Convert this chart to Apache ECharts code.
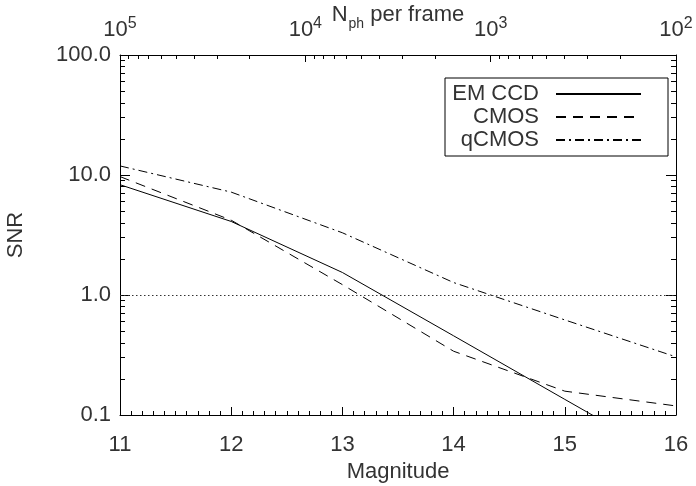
<!DOCTYPE html>
<html>
<head>
<meta charset="UTF-8">
<title>SNR vs Magnitude</title>
<script src="https://cdn.jsdelivr.net/npm/echarts@6.0.0/dist/echarts.min.js"></script>
<style>
  html, body { margin: 0; padding: 0; background: #fff; }
  #chart { width: 696px; height: 486px; }
</style>
</head>
<body>
<div id="chart"></div>
<script>
// data
var magnitudes = [11, 12, 13, 14, 15, 16];
var emccd = [8.3, 4.1, 1.54, 0.457, 0.135, 0.04];
var cmos = [9.7, 4.2, 1.22, 0.34, 0.158, 0.119];
var qcmos = [11.9, 7.2, 3.3, 1.27, 0.62, 0.305];
var seriesNames = ['EM CCD', 'CMOS', 'qCMOS'];
var snrTicks = [0.1, 1, 10, 100];
var nphTicks = [1e2, 1e3, 1e4, 1e5];

var FONT = 'Liberation Sans';
var TXT = '#333';

function pairs(ys) {
    return magnitudes.map(function (m, i) { return [m, ys[i]]; });
}

// minor ticks of a log axis, as log10 values
function logMinors(lo, hi) {
    var out = [];
    for (var e = lo; e < hi; e++) {
        for (var k = 2; k <= 9; k++) out.push(e + Math.log10(k));
    }
    return out;
}

var chart = echarts.init(document.getElementById('chart'));

var minorTickAxis = function (extra) {
    return Object.assign({
        type: 'value',
        axisLine: { show: false, onZero: false },
        axisLabel: { show: false },
        splitLine: { show: false }
    }, extra);
};

var option = {
    animation: false,
    backgroundColor: '#fff',
    textStyle: { fontFamily: FONT },
    grid: { left: 120, right: 20, top: 55, bottom: 71, outerBoundsMode: 'none', containLabel: false },
    legend: {
        orient: 'vertical',
        left: 445,
        top: 78,
        align: 'right',
        data: seriesNames,
        itemWidth: 85,
        itemHeight: 14,
        itemGap: 1,
        padding: [5, 26, 5, 4],
        borderColor: '#000',
        borderWidth: 1,
        borderRadius: 0,
        selectedMode: false,
        itemStyle: { opacity: 0 },
        formatter: function (name) { return '{t|' + name + '}'; },
        textStyle: {
            rich: {
                t: { width: 90, align: 'right', padding: [0, 12, 0, 0],
                     fontSize: 22, lineHeight: 22, fontFamily: FONT, color: TXT }
            }
        }
    },
    xAxis: [
        {
            type: 'value', position: 'bottom', min: 11, max: 16, interval: 1,
            name: 'Magnitude', nameLocation: 'middle', nameGap: 46,
            nameTextStyle: { fontSize: 22, color: TXT, fontFamily: FONT },
            axisLine: { show: true, onZero: false, lineStyle: { color: '#000' } },
            axisTick: { show: true, inside: true, length: 8, lineStyle: { color: '#000' } },
            minorTick: { show: true, splitNumber: 10, length: 4, lineStyle: { color: '#000' } },
            axisLabel: { fontSize: 22, color: TXT, margin: 19, fontFamily: FONT },
            splitLine: { show: false }
        },
        {
            type: 'log', position: 'top', min: 1e2, max: 1e5, inverse: true,
            name: '{n|N}{s|ph}{n| per frame}', nameLocation: 'middle', nameGap: 29,
            nameMoveOverlap: false,
            nameTextStyle: {
                rich: {
                    n: { fontSize: 22, color: TXT, fontFamily: FONT, lineHeight: 26, verticalAlign: 'bottom' },
                    s: { fontSize: 14, color: TXT, fontFamily: FONT, lineHeight: 26, verticalAlign: 'bottom', padding: [0, 0, -5, 1] }
                }
            },
            axisLine: { show: true, onZero: false, lineStyle: { color: '#000' } },
            axisTick: { show: true, inside: true, length: 7, customValues: nphTicks, lineStyle: { color: '#000' } },
            axisLabel: {
                customValues: nphTicks,
                margin: 14,
                formatter: function (v) {
                    return '{b|10}{s|' + Math.round(Math.log10(v)) + '}';
                },
                rich: {
                    b: { fontSize: 22, color: TXT, fontFamily: FONT, lineHeight: 26, verticalAlign: 'bottom' },
                    s: { fontSize: 16, color: TXT, fontFamily: FONT, lineHeight: 26, verticalAlign: 'bottom', padding: [0, 0, 9, 0] }
                }
            },
            splitLine: { show: false }
        },
        minorTickAxis({
            position: 'top', min: 2, max: 5, inverse: true,
            axisTick: { show: true, inside: true, length: 4, customValues: logMinors(2, 5), lineStyle: { color: '#000' } }
        })
    ],
    yAxis: [
        {
            type: 'log', position: 'left', min: 0.1, max: 100,
            name: 'SNR', nameLocation: 'middle', nameGap: 93,
            nameTextStyle: { fontSize: 22, color: TXT, fontFamily: FONT },
            axisLine: { show: true, onZero: false, lineStyle: { color: '#000' } },
            axisTick: { show: true, inside: true, length: 10, customValues: snrTicks, lineStyle: { color: '#000' } },
            axisLabel: {
                customValues: snrTicks,
                fontSize: 22, color: TXT, margin: 9, fontFamily: FONT,
                formatter: function (v) { return Number(v).toFixed(1); }
            },
            splitLine: { show: false }
        },
        minorTickAxis({
            position: 'left', min: -1, max: 2,
            axisTick: { show: true, inside: true, length: 5, customValues: logMinors(-1, 2), lineStyle: { color: '#000' } }
        }),
        {
            type: 'log', position: 'right', min: 0.1, max: 100,
            axisLine: { show: true, onZero: false, lineStyle: { color: '#000' } },
            axisTick: { show: true, inside: true, length: 10, customValues: snrTicks, lineStyle: { color: '#000' } },
            axisLabel: { show: false },
            splitLine: { show: false }
        },
        minorTickAxis({
            position: 'right', min: -1, max: 2,
            axisTick: { show: true, inside: true, length: 5, customValues: logMinors(-1, 2), lineStyle: { color: '#000' } }
        })
    ],
    series: [
        {
            name: 'EM CCD', type: 'line', xAxisIndex: 0, yAxisIndex: 0,
            data: pairs(emccd), symbol: 'none', clip: true,
            lineStyle: { color: '#000', width: 1, type: 'solid' },
            itemStyle: { color: '#000' },
            markLine: {
                silent: true, symbol: 'none', label: { show: false },
                lineStyle: { color: '#333', width: 1, type: [1.5, 2.5] },
                data: [{ yAxis: 1 }]
            }
        },
        {
            name: 'CMOS', type: 'line', xAxisIndex: 0, yAxisIndex: 0,
            data: pairs(cmos), symbol: 'none', clip: true,
            lineStyle: { color: '#000', width: 1, type: [10, 7] },
            itemStyle: { color: '#000' }
        },
        {
            name: 'qCMOS', type: 'line', xAxisIndex: 0, yAxisIndex: 0,
            data: pairs(qcmos), symbol: 'none', clip: true,
            lineStyle: { color: '#000', width: 1, type: [9, 4, 2, 4] },
            itemStyle: { color: '#000' }
        }
    ]
};

chart.setOption(option);
</script>
</body>
</html>
